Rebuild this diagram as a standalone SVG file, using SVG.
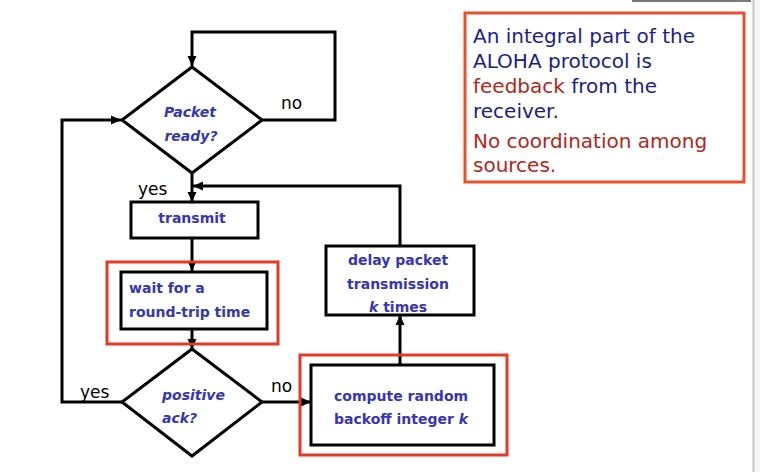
<svg xmlns="http://www.w3.org/2000/svg" width="760" height="472" viewBox="0 0 760 472">
<style>
.ln{fill:none;stroke:#000;stroke-width:3}
.box{fill:#fff;stroke:#000;stroke-width:3}
.hl{fill:none;stroke:#e23a26;stroke-width:3}
.nt{font-family:"DejaVu Sans",sans-serif;font-size:14px;font-weight:bold;fill:#3535b5}
.it{font-style:italic}
.lb{font-family:"DejaVu Sans",sans-serif;font-size:17px;fill:#000}
.nb{font-family:"DejaVu Sans",sans-serif;font-size:20px;fill:#1c1c8e}
.rd{fill:#b3261a}
</style>
<defs>
<marker id="ar" markerUnits="userSpaceOnUse" markerWidth="12" markerHeight="12" viewBox="0 0 12 12" refX="11" refY="6" orient="auto">
<path d="M1,1.5 L11,6 L1,10.5 Z" fill="#000"/>
</marker>
</defs>
<rect x="755" y="0" width="5" height="472" fill="#f6f6f6"/>
<rect x="752.5" y="0" width="2" height="472" fill="#c8c8c8"/>
<rect x="632" y="0" width="119" height="2" fill="#7a7a7a"/>

<g id="connectors">
<path class="ln" d="M262,120 H335 V32 H192 V66" marker-end="url(#ar)"/>
<path class="ln" d="M192,173 V202" marker-end="url(#ar)"/>
<path class="ln" d="M192,238 V271" marker-end="url(#ar)"/>
<path class="ln" d="M192,329 V349" marker-end="url(#ar)"/>
<path class="ln" d="M262,402 H311" marker-end="url(#ar)"/>
<path class="ln" d="M400,365 V315" marker-end="url(#ar)"/>
<path class="ln" d="M400,246 V186 H193" marker-end="url(#ar)"/>
<path class="ln" d="M122,402 H62 V120 H121" marker-end="url(#ar)"/>
</g>

<g id="packet-ready">
<polygon class="box" points="192,67 262,120 192,173 122,120"/>
<text class="nt it" x="190" y="117" text-anchor="middle">Packet</text>
<text class="nt it" x="191" y="141" text-anchor="middle">ready?</text>
</g>

<g id="transmit">
<rect class="box" x="131" y="202" width="127" height="36"/>
<text class="nt" x="192" y="223" text-anchor="middle">transmit</text>
</g>

<g id="wait">
<rect class="hl" x="107" y="262" width="171" height="82"/>
<rect class="box" x="121" y="272" width="146" height="57"/>
<text class="nt" x="129" y="293">wait for a</text>
<text class="nt" x="129" y="317">round-trip time</text>
</g>

<g id="positive-ack">
<polygon class="box" points="192,349 262,402 192,456 122,402"/>
<text class="nt it" x="162" y="400">positive</text>
<text class="nt it" x="162" y="423">ack?</text>
</g>

<g id="compute">
<rect class="hl" x="300" y="355" width="207" height="100"/>
<rect class="box" x="311" y="365" width="183" height="80" stroke-width="4"/>
<text class="nt" x="334" y="401">compute random</text>
<text class="nt" x="334" y="424">backoff integer <tspan class="it">k</tspan></text>
</g>

<g id="delay">
<rect class="box" x="326" y="246" width="148" height="69"/>
<text class="nt" x="398" y="265" text-anchor="middle">delay packet</text>
<text class="nt" x="398" y="289" text-anchor="middle">transmission</text>
<text class="nt" x="398" y="312" text-anchor="middle"><tspan class="it">k</tspan> times</text>
</g>

<g id="labels">
<text class="lb" x="281" y="109">no</text>
<text class="lb" x="138" y="195">yes</text>
<text class="lb" x="80" y="398">yes</text>
<text class="lb" x="271" y="392">no</text>
</g>

<g id="note">
<rect x="465" y="13" width="279" height="169" fill="#fff" stroke="#e8502e" stroke-width="3"/>
<text class="nb" x="473" y="43">An integral part of the</text>
<text class="nb" x="473" y="68">ALOHA protocol is</text>
<text class="nb" x="473" y="93"><tspan class="rd">feedback</tspan> from the</text>
<text class="nb" x="473" y="118">receiver.</text>
<text class="nb rd" x="473" y="148">No coordination among</text>
<text class="nb rd" x="473" y="172">sources.</text>
</g>
</svg>
